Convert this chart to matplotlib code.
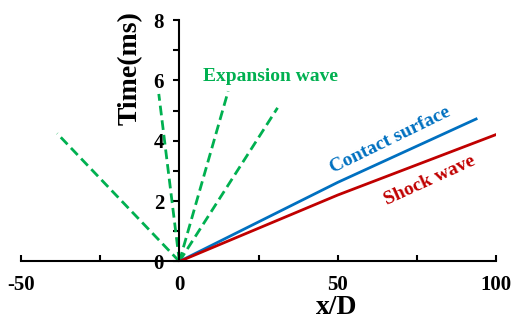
import matplotlib
matplotlib.use("Agg")
import matplotlib.pyplot as plt
from matplotlib.ticker import MultipleLocator

plt.rcParams["font.family"] = ["Liberation Serif", "DejaVu Serif"]
plt.rcParams["font.weight"] = "bold"
plt.rcParams["axes.unicode_minus"] = False

# Ondas de expansion: puntos finales (x/D, t) desde el origen
expansion_x = [-38.6, -6.5, 15.4, 31.0]
expansion_t = [4.24, 5.55, 5.64, 5.09]

# Superficie de contacto y onda de choque
contacto_x = [0, 50, 93.7]
contacto_t = [0, 2.62, 4.72]
choque_x = [0, 50, 99.9]
choque_t = [0, 2.2, 4.2]

verde = "#00B050"
azul = "#0070C0"
rojo = "#C00000"

fig = plt.figure(figsize=(5.13, 3.2), dpi=100)
ax = fig.add_axes([0.041, 0.183, 0.926, 0.7545])

for xe, te in zip(expansion_x, expansion_t):
    ax.plot([0, xe], [0, te], color=verde, lw=2.0, ls=(0, (3.5, 1.8)))
ax.plot(contacto_x, contacto_t, color=azul, lw=2.0)
ax.plot(choque_x, choque_t, color=rojo, lw=2.0)

ax.set_xlim(-50, 100)
ax.set_ylim(0, 8)
ax.spines["left"].set_position(("data", 0))
ax.spines["bottom"].set_position(("data", 0))
ax.spines["top"].set_visible(False)
ax.spines["right"].set_visible(False)
for s in ("left", "bottom"):
    ax.spines[s].set_linewidth(1.5)

ax.xaxis.set_major_locator(MultipleLocator(50))
ax.xaxis.set_minor_locator(MultipleLocator(25))
ax.yaxis.set_major_locator(MultipleLocator(2))
ax.yaxis.set_minor_locator(MultipleLocator(1))
ax.tick_params(axis="x", which="both", direction="in", length=4, width=1.5)
ax.tick_params(axis="x", which="major", pad=10, labelsize=15)
ax.tick_params(axis="y", which="both", direction="out", length=4, width=1.5)
ax.tick_params(axis="y", which="major", pad=7, labelsize=15)
for lab in ax.get_xticklabels() + ax.get_yticklabels():
    lab.set_fontweight("bold")

ax.set_xlabel("x/D", fontsize=20, fontweight="bold")
ax.xaxis.set_label_coords(0.665, -0.19)
ax.xaxis.label.set_va("center")
ax.set_ylabel("Time(ms)", fontsize=20, fontweight="bold")
ax.yaxis.set_label_coords(0.229, 0.803)
ax.yaxis.label.set_va("center")

ax.text(28.7, 6.14, "Expansion wave", color=verde, fontsize=14, fontweight="bold",
        ha="center", va="center")
ax.text(66.6, 4.03, "Contact surface", color=azul, fontsize=14, fontweight="bold",
        ha="center", va="center", rotation=26, rotation_mode="anchor")
ax.text(79.0, 2.67, "Shock wave", color=rojo, fontsize=14, fontweight="bold",
        ha="center", va="center", rotation=24.5, rotation_mode="anchor")

fig.savefig("out.png", dpi=100)
